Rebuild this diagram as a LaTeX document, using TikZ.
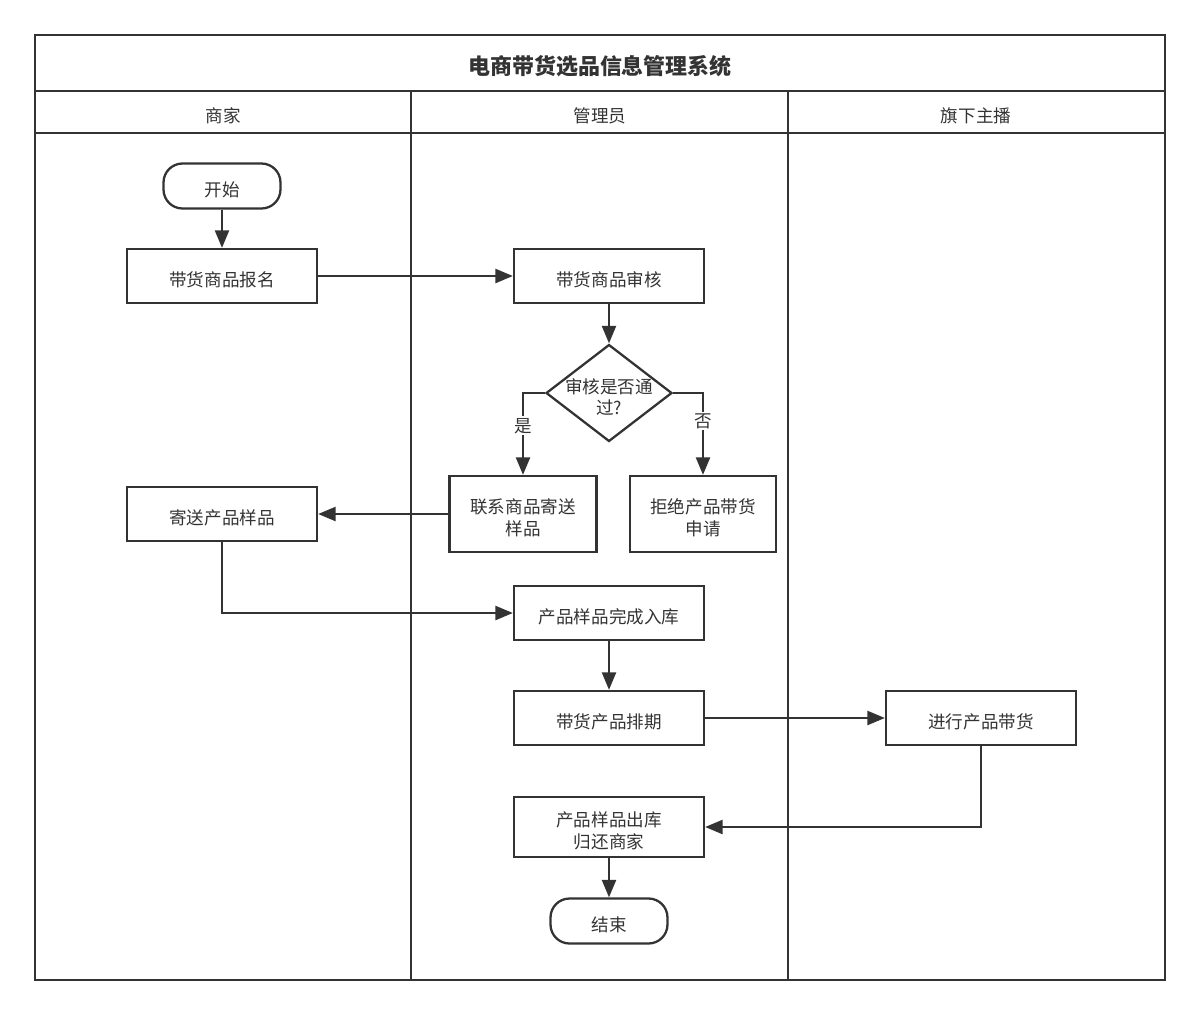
\documentclass[tikz,border=0pt]{standalone}
\usepackage{fontspec}
\setmainfont{Noto Sans CJK SC}
\usetikzlibrary{shapes.geometric,arrows.meta}
\definecolor{inkgray}{HTML}{333333}
\newcommand{\lowstrut}{\rule{0pt}{1.3em}}

\begin{document}
\begin{tikzpicture}[x=0.02cm, y=-0.02cm, line width=1.3pt, draw=inkgray,
    every node/.style={text=inkgray, font=\fontsize{10}{12.5}\selectfont},
    lowtext/.style={execute at begin node={\lowstrut}},
    procbox/.style={draw, rectangle, align=center, lowtext, minimum width=3.8cm, minimum height=1.08cm},
    termbox/.style={draw, rectangle, lowtext, rounded corners=0.38cm, minimum width=2.34cm, minimum height=0.9cm},
    decision/.style={draw, diamond, minimum width=2.52cm, minimum height=1.94cm, inner sep=0pt},
    flow/.style={-{Triangle[length=10pt, width=8pt]}},
    choice/.style={fill=white, inner sep=1pt}]
        \useasboundingbox (0,0) rectangle (1200,1015);
        % swimlane frame
        \draw (35,35) rectangle (1165,980);
        \draw (35,91) -- (1165,91);
        \draw (35,133) -- (1165,133);
        \draw (411,91) -- (411,980);
        \draw (788,91) -- (788,980);
        \node (title) at (600,66) [font=\fontsize{12.5}{15}\selectfont\bfseries] {电商带货选品信息管理系统};
        \node (lane1) at (223,116) {商家};
        \node (lane2) at (600,116) {管理员};
        \node (lane3) at (976,116) {旗下主播};
        % steps
        \node (start) at (222,186) [termbox] {开始};
        \node (apply) at (222,276) [procbox] {带货商品报名};
        \node (audit) at (609,276) [procbox] {带货商品审核};
        \node (check) at (609,393) [decision, label={[align=center, font=\fontsize{10}{11.5}\selectfont]center:\lowstrut 审核是否通\\过?}] {};
        \node (contact) at (523,514) [procbox, minimum width=2.94cm, minimum height=1.52cm] {\lowstrut 联系商品寄送\\样品};
        \node (reject) at (703,514) [procbox, minimum width=2.92cm, minimum height=1.52cm] {\lowstrut 拒绝产品带货\\申请};
        \node (send) at (222,514) [procbox] {寄送产品样品};
        \node (stock) at (609,613) [procbox] {产品样品完成入库};
        \node (sched) at (609,718) [procbox] {带货产品排期};
        \node (live) at (981,718) [procbox] {进行产品带货};
        \node (back) at (609,827) [procbox, minimum height=1.2cm] {\lowstrut 产品样品出库\\归还商家};
        \node (finish) at (609,921) [termbox] {结束};
        % connectors
        \draw[flow] (start) -- (apply);
        \draw[flow] (apply) -- (audit);
        \draw[flow] (audit) -- (check);
        \draw[flow] (check.west) -| node[choice, pos=0.7] {是} (contact);
        \draw[flow] (check.east) -| node[choice, pos=0.67] {否} (reject);
        \draw[flow] (contact) -- (send);
        \draw[flow] (send) |- (stock);
        \draw[flow] (stock) -- (sched);
        \draw[flow] (sched) -- (live);
        \draw[flow] (live) |- (back);
        \draw[flow] (back) -- (finish);
    \end{tikzpicture}
\end{document}
